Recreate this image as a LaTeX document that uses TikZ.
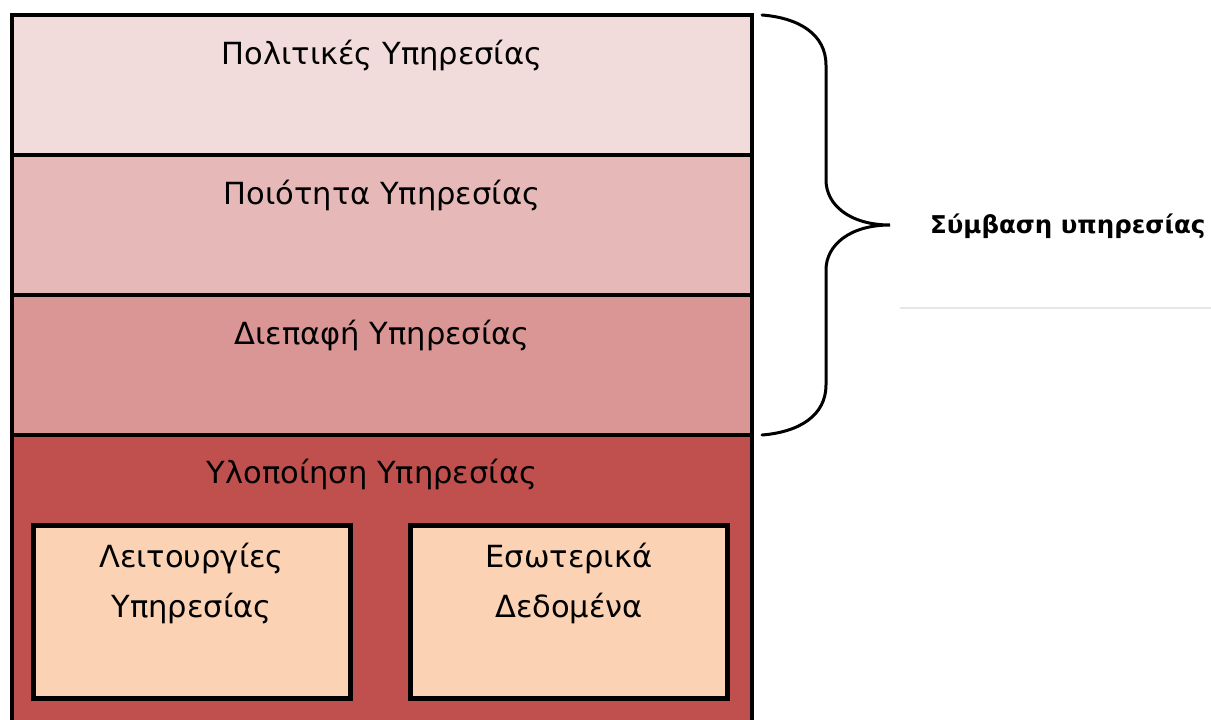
\documentclass[tikz,border=0pt]{standalone}
\usepackage{fontspec}
\setmainfont{DejaVu Sans}
\definecolor{layerA}{HTML}{F2DCDB}
\definecolor{layerB}{HTML}{E6B9B8}
\definecolor{layerC}{HTML}{D99694}
\definecolor{layerD}{HTML}{C0504D}
\definecolor{innerbox}{HTML}{FBD3B4}
\definecolor{rulegray}{HTML}{E6E6E6}
\begin{document}
\begin{tikzpicture}[x=1pt,y=-1pt,
  layer/.style={draw=black,line width=4pt,minimum width=740pt,inner sep=0pt,outer sep=0pt},
  inner/.style={draw=black,line width=5pt,fill=innerbox,minimum width=317pt,minimum height=173pt,inner sep=0pt,outer sep=0pt},
  caption/.style={font=\fontsize{30.5}{36}\selectfont,inner sep=0pt,anchor=center},
  twoline/.style={font=\fontsize{30.5}{50}\selectfont,align=center,inner sep=0pt,anchor=north},
  bracepath/.style={line width=3pt,line cap=round}]
\useasboundingbox (0,0) rectangle (1211,720);
\clip (0,0) rectangle (1211,720);
% stacked layers of the service
\node[layer,fill=layerD,minimum height=320pt] (impl) at (382,595) {};
\node[layer,fill=layerC,minimum height=140pt] (iface) at (382,365) {};
\node[layer,fill=layerB,minimum height=140pt] (qos) at (382,225) {};
\node[layer,fill=layerA,minimum height=140pt] (policy) at (382,85) {};
% layer titles
\node[caption] (tpolicy) at (382,56) {Πολιτικές Υπηρεσίας};
\node[caption] (tqos) at (382,196) {Ποιότητα Υπηρεσίας};
\node[caption] (tiface) at (382,336) {Διεπαφή Υπηρεσίας};
\node[caption] (timpl) at (372,475) {Υλοποίηση Υπηρεσίας};
% parts of the implementation
\node[inner] (funcs) at (191.5,611.5) {};
\node[inner] (data) at (569,611.5) {};
\node[twoline] (tfuncs) at (191.5,543) {Λειτουργίες\\Υπηρεσίας};
\node[twoline] (tdata) at (569,543) {Εσωτερικά\\Δεδομένα};
% curly brace spanning the service contract
\coordinate (btop) at (762,15);
\coordinate (btip) at (890,225);
\coordinate (bbot) at (762,435);
\draw[bracepath] (btop) .. controls (800,18) and (826,35) .. (826,65)
  -- (826,180) .. controls (826,205) and (850,225) .. (btip)
  .. controls (850,225) and (826,245) .. (826,270)
  -- (826,385) .. controls (826,415) and (800,432) .. (bbot);
\node[font=\bfseries\fontsize{24.5}{29}\selectfont,anchor=west,inner sep=0pt] (contract) at (930,226) {Σύμβαση υπηρεσίας};
\draw[rulegray,line width=1.5pt] (900,308) -- (1211,308);
\end{tikzpicture}
\end{document}
